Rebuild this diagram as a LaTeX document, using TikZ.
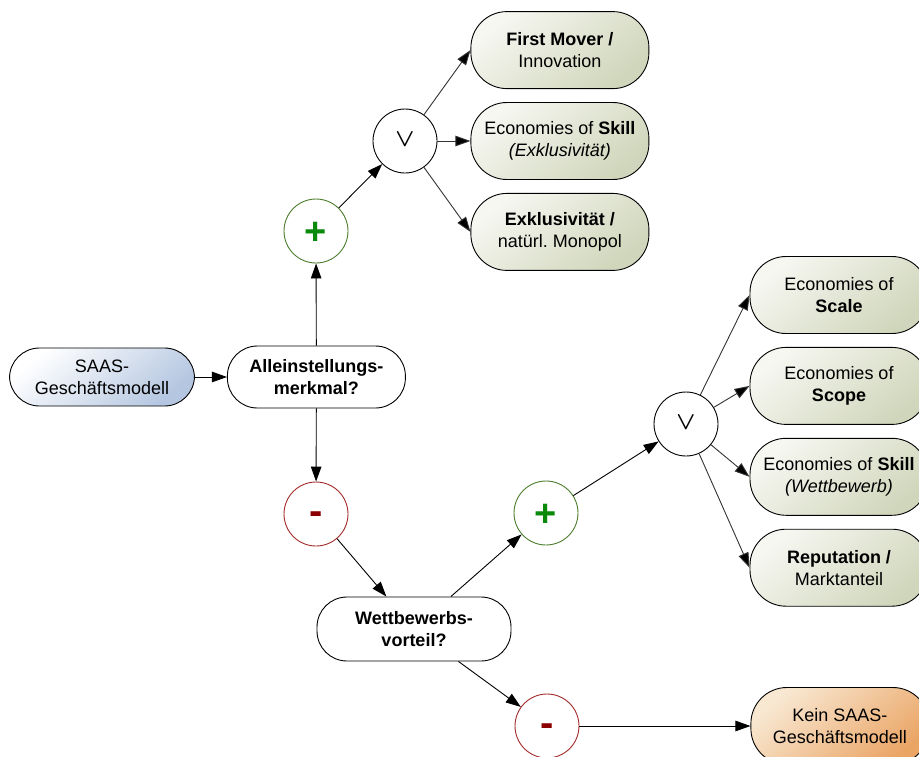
\documentclass[tikz,border=0pt]{standalone}
\usepackage{fontspec}
\setmainfont{Liberation Sans}
\usetikzlibrary{positioning, arrows.meta}
\frenchspacing

\definecolor{boxlight}{HTML}{F6F7F1}
\definecolor{boxmid}{HTML}{EFF1E7}
\definecolor{boxdark}{HTML}{D0D6BB}
\definecolor{bluemid}{HTML}{E4E9F0}
\definecolor{bluedark}{HTML}{B4C6E0}
\definecolor{orangelight}{HTML}{F8E8D2}
\definecolor{orangemid}{HTML}{F2C792}
\definecolor{orangedark}{HTML}{EAA464}
\definecolor{plusgreen}{HTML}{0A8A0A}
\definecolor{plusring}{HTML}{4C7D2C}
\definecolor{minusred}{HTML}{8B0000}
\definecolor{minusring}{HTML}{A42A2A}

\begin{document}
\begin{tikzpicture}[x=1pt, y=-1pt, >={Triangle[length=15pt,width=10.5pt]},
    line width=0.9pt, node distance=13pt,
    txt/.style={font=\fontsize{18}{22}\selectfont, align=center},
    box/.style={txt, draw, rounded corners=36pt, minimum width=178pt,
        minimum height=77pt, inner sep=2pt,
        top color=boxlight, middle color=boxmid, bottom color=boxdark,
        shading angle=40},
    pill/.style={txt, draw, rounded corners=30pt, inner sep=2pt},
    circ/.style={circle, draw, fill=white, minimum size=64pt, inner sep=0pt},
    plusnode/.style={circ, draw=plusring, text=plusgreen,
        font=\fontsize{38}{38}\selectfont\bfseries},
    minusnode/.style={circ, draw=minusring, text=minusred,
        font=\fontsize{40}{40}\selectfont\bfseries},
    venode/.style={circ, font=\fontsize{27}{27}\selectfont\boldmath},
    oredge/.style={->, draw=black!80}]

    \useasboundingbox (0,0) rectangle (919,756);

    % start and first question
    \node[pill, minimum width=185pt, minimum height=58pt,
        top color=white, middle color=bluemid, bottom color=bluedark,
        shading angle=40]
        (saas) at (102,377) {SAAS-\\Geschäftsmodell};
    \node[pill, fill=white, minimum width=178pt, minimum height=62pt,
        font=\fontsize{18}{22}\selectfont\bfseries, right=32pt of saas]
        (usp) {Alleinstellungs-\\merkmal?};

    % upper branch
    \node[plusnode] (plusA) at (316,231) {\raisebox{0pt}[0.7em][0pt]{+}};
    \node[venode] (orA) at (405,141) {\raisebox{0pt}[0.42em][0pt]{$\vee$}};
    \node[box, right=33pt of orA] (skillA)
        {Economies of \textbf{Skill}\\\textit{(Exklusivität)}};
    \node[box, above=of skillA] (mover) {\textbf{First Mover /}\\Innovation};
    \node[box, below=of skillA] (excl) {\textbf{Exklusivität /}\\natürl. Monopol};

    % lower branch
    \node[minusnode] (minusA) at (316,514) {\raisebox{0pt}[0.52em][0pt]{-}};
    \node[pill, fill=white, minimum width=194pt, minimum height=64pt,
        font=\fontsize{18}{22}\selectfont\bfseries]
        (comp) at (414,629) {Wettbewerbs-\\vorteil?};
    \node[plusnode] (plusB) at (546,513) {\raisebox{0pt}[0.7em][0pt]{+}};
    \node[venode] (orB) at (686,424) {\raisebox{0pt}[0.42em][0pt]{$\vee$}};
    \node[box] (scale) at (839,295) {Economies of\\\textbf{Scale}};
    \node[box, below=of scale] (scope) {Economies of\\\textbf{Scope}};
    \node[box, below=of scope] (skillB)
        {Economies of \textbf{Skill}\\\textit{(Wettbewerb)}};
    \node[box, below=of skillB] (repu) {\textbf{Reputation /}\\Marktanteil};

    \node[minusnode] (minusB) at (547,726) {\raisebox{0pt}[0.52em][0pt]{-}};
    \node[box, top color=orangelight, middle color=orangemid,
        bottom color=orangedark, shading angle=40,
        right=171pt of minusB] (none) {Kein SAAS-\\Geschäftsmodell};

    \path[->]
    (saas) edge (usp)
    (usp) edge (plusA)
          edge (minusA)
    (plusA) edge (orA)
    (minusA) edge (comp)
    (comp) edge (plusB)
           edge (minusB)
    (plusB) edge (orB)
    (minusB) edge (none);

    \path[oredge]
    (orA) edge (mover.west)
          edge (skillA.west)
          edge (excl.west)
    (orB) edge (scale.west)
          edge (scope.west)
          edge (skillB.west)
          edge (repu.west);

\end{tikzpicture}
\end{document}
